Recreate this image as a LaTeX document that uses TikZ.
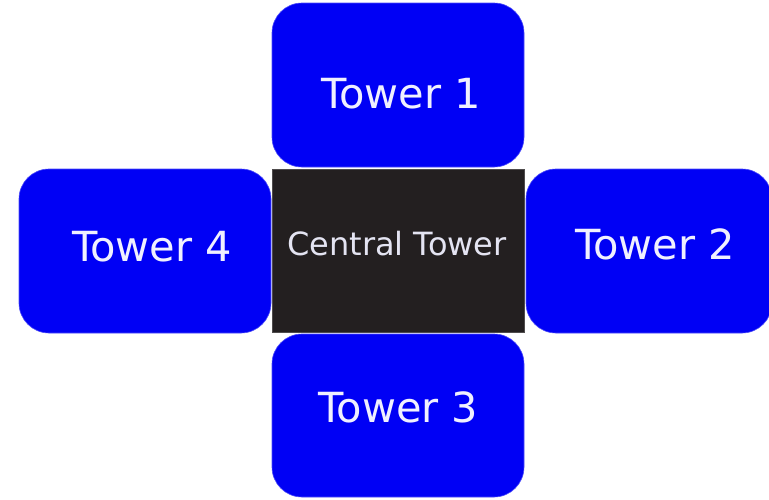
\documentclass[tikz,border=0pt]{standalone}
\usepackage{fontspec}
\setmainfont{DejaVu Sans}
\definecolor{towerblue}{RGB}{0,0,245}
\definecolor{centraldark}{RGB}{35,31,32}
\definecolor{towertext}{RGB}{240,240,255}
\begin{document}
\begin{tikzpicture}[x=1pt,y=-1pt,
  towerbox/.style={fill=towerblue, draw=towerblue!70!white, line width=0.6pt, rounded corners=30pt, inner sep=0pt, outer sep=0pt},
  centralbox/.style={fill=centraldark, draw=centraldark!80!white, line width=0.4pt, inner sep=0pt, outer sep=0pt},
  towerlabel/.style={anchor=base, text=towertext, font=\fontsize{41.5}{50}\selectfont, inner sep=0pt},
  centrallabel/.style={anchor=base, text=towertext!95!black, font=\fontsize{32}{38}\selectfont, inner sep=0pt}]
\useasboundingbox (0,0) rectangle (769,499);
% boxes
\node[towerbox, minimum width=252pt, minimum height=164pt] (t1) at (398,85) {};
\node[centralbox, minimum width=252pt, minimum height=163pt] (ct) at (398,250.5) {};
\node[towerbox, minimum width=246pt, minimum height=164pt] (t2) at (649,251) {};
\node[towerbox, minimum width=252pt, minimum height=164pt] (t4) at (145,251) {};
\node[towerbox, minimum width=252pt, minimum height=163pt] (t3) at (398,415.5) {};
% labels
\node[towerlabel] (l1) at (401,108) {Tower 1};
\node[towerlabel] (l2) at (655,259) {Tower 2};
\node[towerlabel] (l3) at (398.5,422) {Tower 3};
\node[towerlabel] (l4) at (152,261) {Tower 4};
\node[centrallabel] (lc) at (397,255) {Central Tower};
\end{tikzpicture}
\end{document}
